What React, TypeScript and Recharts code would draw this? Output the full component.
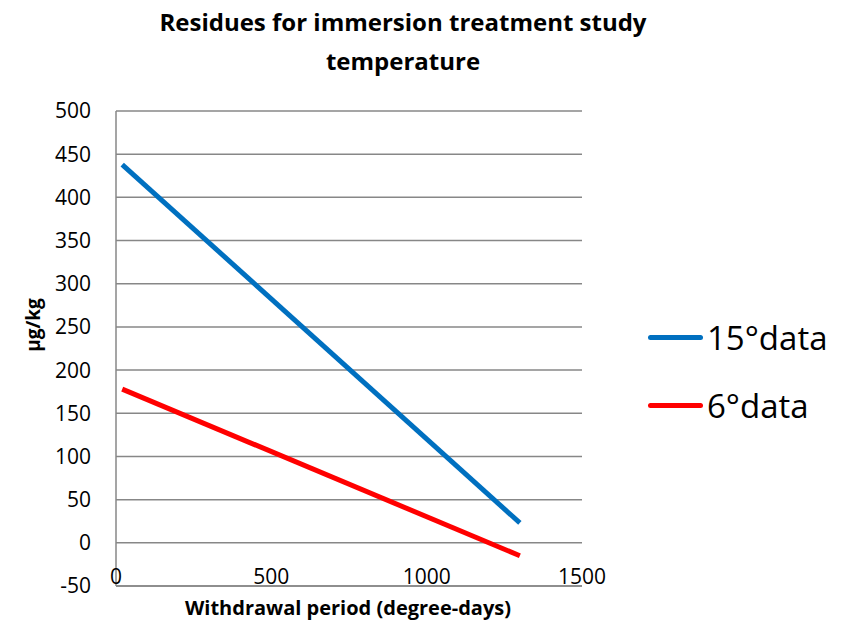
import { CartesianGrid, Line, LineChart, XAxis, YAxis } from 'recharts';

const withdrawal = [20, 1300];
const data15 = [438, 23];
const data6 = [178, -15];
const yTicks = [-50, 0, 50, 100, 150, 200, 250, 300, 350, 400, 450, 500];
const xTicks = [0, 500, 1000, 1500];

const rows = withdrawal.map((x, i) => ({ x, t15: data15[i], t6: data6[i] }));

const font = '"Open Sans", "Noto Sans", sans-serif';
const gridColor = '#878787';

export default function App() {
  return (
    <div style={{ position: 'absolute', left: 0, top: 0, width: 854, height: 627, background: '#fff', fontFamily: font }}>
      <LineChart width={854} height={627} data={rows} margin={{ top: 111, right: 272, bottom: 0, left: 0 }}>
        <CartesianGrid vertical={false} stroke={gridColor} strokeWidth={1.5} />
        <XAxis
          dataKey="x"
          type="number"
          domain={[0, 1500]}
          ticks={xTicks}
          height={41}
          tickLine={false}
          axisLine={{ stroke: gridColor, strokeWidth: 1.5 }}
          tick={{ fill: '#000', fontSize: 21, fontFamily: font, dy: -25 }}
        />
        <YAxis
          type="number"
          domain={[-50, 500]}
          ticks={yTicks}
          width={116}
          tickLine={false}
          axisLine={{ stroke: gridColor, strokeWidth: 1.5 }}
          tick={{ fill: '#000', fontSize: 21, fontFamily: font, dx: -17 }}
        />
        <Line dataKey="t15" stroke="#0070C0" strokeWidth={5} dot={false} isAnimationActive={false} />
        <Line dataKey="t6" stroke="#FF0000" strokeWidth={5} dot={false} isAnimationActive={false} />
      </LineChart>

      <div style={{ position: 'absolute', left: 0, width: 806, top: 2, textAlign: 'center', fontWeight: 700, fontSize: 24, lineHeight: '39px' }}>
        Residues for immersion treatment study
        <br />
        temperature
      </div>
      <div style={{ position: 'absolute', left: 33, top: 325, transform: 'translate(-50%, -50%) rotate(-90deg)', fontWeight: 700, fontSize: 19, whiteSpace: 'nowrap' }}>
        µg/kg
      </div>
      <div style={{ position: 'absolute', left: 0, width: 696, top: 594, textAlign: 'center', fontWeight: 700, fontSize: 20 }}>
        Withdrawal period (degree-days)
      </div>
      {[
        { label: '15°data', color: '#0070C0', y: 337 },
        { label: '6°data', color: '#FF0000', y: 405 },
      ].map((item) => (
        <div key={item.label} style={{ position: 'absolute', left: 648, top: item.y - 24, height: 48, display: 'flex', alignItems: 'center' }}>
          <div style={{ width: 55, height: 5, borderRadius: 3, background: item.color }} />
          <span style={{ fontSize: 33, marginLeft: 4 }}>{item.label}</span>
        </div>
      ))}
    </div>
  );
}
